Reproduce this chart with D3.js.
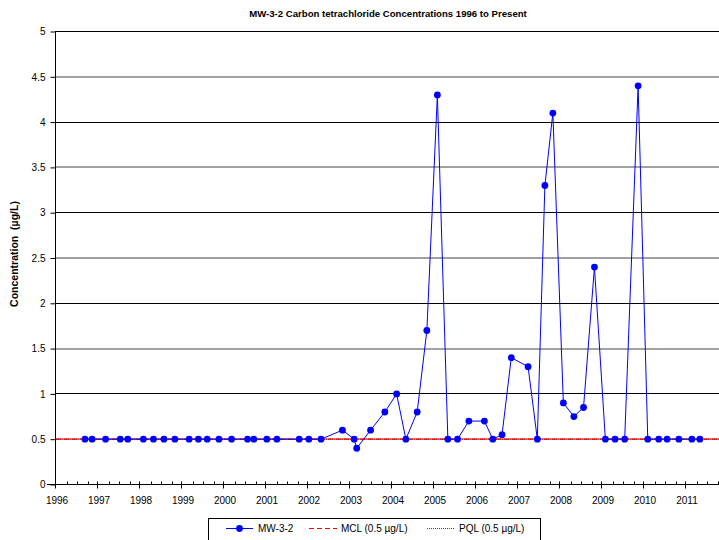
<!DOCTYPE html>
<html><head><meta charset="utf-8">
<script src="https://cdn.jsdelivr.net/npm/d3@7"></script>
<style>body{margin:0;background:#fff}svg{display:block}text{font-family:"Liberation Sans",Arial,sans-serif}</style>
</head><body><svg id="c" width="719" height="540"></svg>
<script>
// Sample dates (decimal years) and concentrations (µg/L)
const sampleYears = [1996.69,1996.86,1997.18,1997.53,1997.71,1998.08,1998.32,1998.57,1998.83,1999.17,
 1999.39,1999.60,1999.88,2000.18,2000.56,2000.71,2001.02,2001.26,2001.79,2002.02,2002.31,
 2002.82,2003.10,2003.16,2003.49,2003.83,2004.11,2004.33,2004.60,2004.83,2005.08,2005.33,
 2005.56,2005.83,2006.20,2006.40,2006.62,2006.84,2007.24,2007.46,2007.64,2007.83,2008.08,
 2008.33,2008.56,2008.82,2009.08,2009.31,2009.54,2009.86,2010.09,2010.35,2010.55,2010.83,
 2011.14,2011.33];
const concentrations = [0.5,0.5,0.5,0.5,0.5,0.5,0.5,0.5,0.5,0.5,
 0.5,0.5,0.5,0.5,0.5,0.5,0.5,0.5,0.5,0.5,0.5,
 0.6,0.5,0.4,0.6,0.8,1.0,0.5,0.8,1.7,4.3,0.5,
 0.5,0.7,0.7,0.5,0.55,1.4,1.3,0.5,3.3,4.1,0.9,
 0.75,0.85,2.4,0.5,0.5,0.5,4.4,0.5,0.5,0.5,0.5,
 0.5,0.5];
const yearTicks = [1996,1997,1998,1999,2000,2001,2002,2003,2004,2005,2006,2007,2008,2009,2010,2011];
const concTicks = [0,0.5,1,1.5,2,2.5,3,3.5,4,4.5,5];
const mclValue = 0.5, pqlValue = 0.5;
const seriesName = "MW-3-2";
const mclLabel = "MCL (0.5 µg/L)", pqlLabel = "PQL (0.5 µg/L)";
const titleText = "MW-3-2 Carbon tetrachloride Concentrations 1996 to Present";
const yTitle = "Concentration  (µg/L)";

const svg = d3.select("#c");
const L = 56, R = 719, T = 31.5, B = 484.5;
const x = d3.scaleLinear().domain([1996, 1996 + (R - L) / 42]).range([L, R]);
const y = d3.scaleLinear().domain([0, 5]).range([B, T]);

// gridlines
const grid = svg.append("g");
concTicks.filter(v => v > 0).forEach(v => {
  const isInt = Number.isInteger(v);
  const yy = isInt ? Math.round(y(v) - 0.5) + 0.5 : Math.round(y(v));
  grid.append("line").attr("x1", L).attr("x2", R).attr("y1", yy).attr("y2", yy)
    .attr("stroke", isInt ? "#000" : "#444").attr("stroke-width", 1);
});

// MCL / PQL lines
svg.append("line").attr("x1", L).attr("x2", R).attr("y1", y(mclValue)).attr("y2", y(mclValue))
  .attr("stroke", "#ff0000").attr("stroke-width", 1).attr("stroke-dasharray", "5,3");
svg.append("line").attr("x1", L).attr("x2", R).attr("y1", y(pqlValue)).attr("y2", y(pqlValue))
  .attr("stroke", "#ff0000").attr("stroke-width", 1).attr("stroke-dasharray", "1,1");

// axes
const yAxis = d3.axisLeft(y).tickValues(concTicks).tickSize(5).tickPadding(5).tickFormat(d3.format("~g"));
const gy = svg.append("g").attr("transform", `translate(${L - 0.5},0)`).call(yAxis);
gy.select(".domain").attr("d", `M0,${T - 0.5}V${B}`);
gy.selectAll("text").attr("font-size", 10).attr("fill", "#000").attr("font-family", "Liberation Sans, Arial, sans-serif");

const minorTicks = d3.range(1996, 2012, 0.25).filter(v => x(v) <= R && !Number.isInteger(v));
const gx = svg.append("g").attr("transform", `translate(0,${B})`);
gx.append("line").attr("x1", L - 9).attr("x2", R).attr("y1", 0).attr("y2", 0).attr("stroke", "#000");
gx.selectAll(".minor").data(minorTicks).join("line")
  .attr("x1", d => Math.round(x(d)) + 0.5).attr("x2", d => Math.round(x(d)) + 0.5)
  .attr("y1", -3).attr("y2", 0).attr("stroke", "#000");
gx.selectAll(".major").data(yearTicks).join("line")
  .attr("x1", d => Math.round(x(d)) - 0.5).attr("x2", d => Math.round(x(d)) - 0.5)
  .attr("y1", -3).attr("y2", 4).attr("stroke", "#000");
gx.selectAll(".lbl").data(yearTicks).join("text")
  .attr("x", d => x(d) + 1).attr("y", 19).attr("text-anchor", "middle")
  .attr("font-size", 10).text(d => d);

// series
const pts = sampleYears.map((d, i) => [d, concentrations[i]]);
svg.append("path").datum(pts)
  .attr("d", d3.line().x(d => x(d[0])).y(d => y(d[1])))
  .attr("fill", "none").attr("stroke", "#0000ff").attr("stroke-width", 1);
svg.selectAll(".pt").data(pts).join("circle")
  .attr("cx", d => x(d[0])).attr("cy", d => y(d[1])).attr("r", 3.4).attr("fill", "#0000ff");

// titles
svg.append("text").attr("x", 388).attr("y", 17).attr("text-anchor", "middle")
  .attr("font-size", 9.6).attr("font-weight", "bold").text(titleText);
svg.append("text").attr("transform", "translate(18,254) rotate(-90)").attr("text-anchor", "middle")
  .attr("font-size", 10.5).attr("font-weight", "bold").style("white-space", "pre").text(yTitle);

// legend
const lg = svg.append("g");
lg.append("rect").attr("x", 208.5).attr("y", 518.5).attr("width", 332).attr("height", 30)
  .attr("fill", "#fff").attr("stroke", "#000");
const ly = 528.5;
lg.append("line").attr("x1", 226).attr("x2", 253).attr("y1", ly).attr("y2", ly).attr("stroke", "#0000ff");
lg.append("circle").attr("cx", 239.5).attr("cy", ly).attr("r", 3.4).attr("fill", "#0000ff");
lg.append("text").attr("x", 258).attr("y", ly + 3.5).attr("font-size", 10).text(seriesName);
lg.append("line").attr("x1", 309).attr("x2", 337).attr("y1", ly).attr("y2", ly).attr("stroke", "#ff0000").attr("stroke-dasharray", "5,3");
lg.append("text").attr("x", 341).attr("y", ly + 3.5).attr("font-size", 10).text(mclLabel);
lg.append("line").attr("x1", 427).attr("x2", 455).attr("y1", ly).attr("y2", ly).attr("stroke", "#ff0000").attr("stroke-dasharray", "1,1");
lg.append("text").attr("x", 459).attr("y", ly + 3.5).attr("font-size", 10).text(pqlLabel);
</script></body></html>
